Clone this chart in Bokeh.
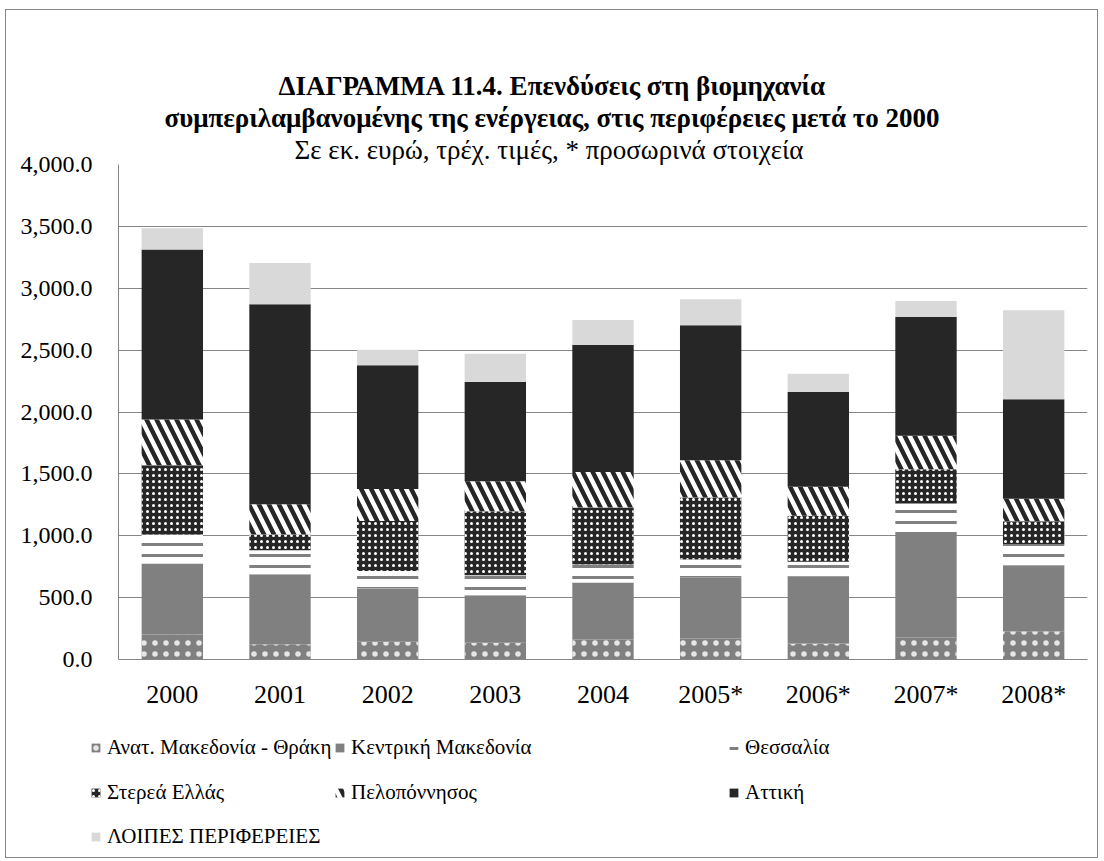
from bokeh.plotting import figure
from bokeh.layouts import column
from bokeh.models import (ColumnDataSource, FactorRange, Legend, LegendItem, Title, Range1d,
                          SingleIntervalTicker, NumeralTickFormatter)
from bokeh.embed import file_html
from bokeh.resources import INLINE

years = ["2000", "2001", "2002", "2003", "2004", "2005*", "2006*", "2007*", "2008*"]
anat_makedonia_thraki = [202, 124, 143, 135, 162, 170, 129, 178, 229]
kentriki_makedonia = [573, 565, 430, 385, 460, 490, 539, 845, 533]
thessalia = [235, 194, 143, 161, 145, 148, 121, 237, 169]
sterea_ellada = [560, 127, 404, 517, 461, 501, 372, 277, 186]
peloponnisos = [369, 245, 258, 242, 288, 301, 234, 272, 183]
attiki = [1375, 1615, 999, 802, 1026, 1091, 767, 959, 803]
loipes = [171, 334, 126, 229, 202, 210, 148, 129, 719]

labels = ["Ανατ. Μακεδονία - Θράκη", "Κεντρική Μακεδονία", "Θεσσαλία",
          "Στερεά Ελλάς", "Πελοπόννησος", "Αττική", "ΛΟΙΠΕΣ ΠΕΡΙΦΕΡΕΙΕΣ"]
keys = ["anat", "kentr", "thess", "sterea", "pelop", "attiki", "loipes"]

title_lines = ["ΔΙΑΓΡΑΜΜΑ 11.4. Επενδύσεις στη βιομηχανία",
               "συμπεριλαμβανομένης της ενέργειας, στις περιφέρειες μετά το 2000",
               "Σε εκ. ευρώ, τρέχ. τιμές, * προσωρινά στοιχεία"]

source = ColumnDataSource(dict(year=years, anat=anat_makedonia_thraki, kentr=kentriki_makedonia,
                               thess=thessalia, sterea=sterea_ellada, pelop=peloponnisos,
                               attiki=attiki, loipes=loipes))

FONT = "Liberation Serif, DejaVu Serif, serif"
GRID = "#868686"
W = 1091

fills = ["#808080", "#808080", "white", "#262626", "white", "#262626", "#d9d9d9"]
patterns = ["dot", " ", "horizontal_line", "dot", "left_diagonal_line", " ", " "]
hcolors = ["#e6e6e6", "white", "#808080", "white", "#262626", "white", "white"]
hscales = [11, 9, 11, 6, 20, 9, 9]
hweights = [1.0, 1.0, 3.0, 1.0, 4.5, 1.0, 1.0]

p = figure(x_range=FactorRange(*years), y_range=(0, 4000), width=W, height=710,
           title=None, output_backend="svg", toolbar_location=None,
           min_border_left=112, min_border_right=10, min_border_top=154, min_border_bottom=61)
p.frame_align = False
p.outline_line_color = None
p.background_fill_color = "white"
p.border_fill_color = "white"

p.vbar_stack(keys, x="year", width=0.57, source=source,
             fill_color=fills, line_color=None,
             hatch_pattern=patterns, hatch_color=hcolors,
             hatch_scale=hscales, hatch_weight=hweights)

# axes
p.yaxis.ticker = SingleIntervalTicker(interval=500)
p.yaxis.formatter = NumeralTickFormatter(format="0,0.0")
for ax in (p.xaxis[0], p.yaxis[0]):
    ax.major_label_text_font = FONT
    ax.major_label_text_color = "black"
    ax.major_tick_line_color = None
    ax.minor_tick_line_color = None
    ax.axis_line_color = GRID
p.yaxis.major_label_text_font_size = "24px"
p.xaxis.major_label_text_font_size = "26px"
p.yaxis.major_label_standoff = 20
p.xaxis.major_label_standoff = 14
p.xgrid.grid_line_color = None
p.ygrid.grid_line_color = GRID
p.ygrid.ticker = SingleIntervalTicker(interval=500)

# titles: added nearest-to-frame first
for txt, off, style in [(title_lines[2], 176, "normal"),
                        (title_lines[1], 46, "bold"),
                        (title_lines[0], 160, "bold")]:
    p.add_layout(Title(text=txt, align="left", offset=off, standoff=0,
                       text_font=FONT, text_font_size="27px", text_font_style=style,
                       text_color="black"), "above")

# legend figure
leg = figure(width=W, height=137, x_range=Range1d(0, 1), y_range=Range1d(0, 1),
             output_backend="svg", toolbar_location=None, title=None,
             min_border=0, min_border_left=0, min_border_right=0,
             min_border_top=0, min_border_bottom=0)
leg.frame_align = False
leg.xaxis.visible = False
leg.yaxis.visible = False
leg.grid.visible = False
leg.outline_line_color = None
leg.border_fill_color = "white"

dummy = []
for i in range(7):
    r = leg.vbar(x=[5], top=[1], width=0.1, fill_color=fills[i], line_color=None,
                 hatch_pattern=patterns[i], hatch_color=hcolors[i],
                 hatch_scale=hscales[i], hatch_weight=hweights[i])
    dummy.append(r)

positions = [(84, 96), (328, 96), (722, 96),
             (84, 51), (328, 51), (722, 51),
             (84, 7)]
for r, lab, pos in zip(dummy, labels, positions):
    lg = Legend(items=[LegendItem(label=lab, renderers=[r])], location=pos,
                orientation="horizontal", padding=0, margin=0, spacing=0,
                glyph_width=11, glyph_height=11, label_height=28, label_standoff=6,
                label_text_font=FONT, label_text_font_size="21px", label_text_color="black",
                border_line_color=None, background_fill_alpha=0)
    leg.add_layout(lg, "center")

root = column(p, leg, spacing=0,
              styles={"border": "1px solid #868686", "margin-left": "5px", "margin-top": "9px"})

open("out.html", "w").write(file_html(root, INLINE))
